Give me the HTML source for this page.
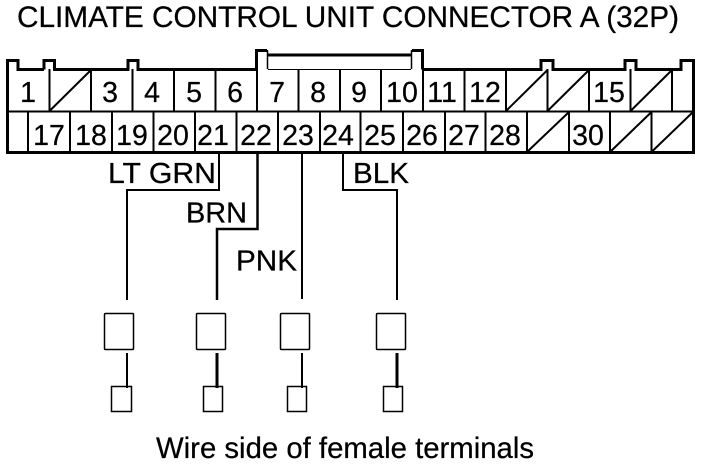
<!DOCTYPE html>
<html><head><meta charset="utf-8"><style>
html,body{margin:0;padding:0;background:#fff}
svg{display:block}
text{font-family:"Liberation Sans",Arial,sans-serif;font-size:28.500px;fill:#000;stroke:#000;stroke-width:.25px}
.c{text-anchor:middle}
</style></head><body>
<svg width="704" height="468" viewBox="0 0 704 468" xmlns="http://www.w3.org/2000/svg">
<text x="17" y="27" style="font-size:29.400px" textLength="662" lengthAdjust="spacingAndGlyphs">CLIMATE CONTROL UNIT CONNECTOR A (32P)</text>

<g fill="none" stroke="#000" stroke-width="3">
<path d="M256.500 69.500V50.500H267M267 55H412M412 50.500H422.500V69.500M7.500 152V60.500H18V69.500H44M44 69.500V60.500H54.500V69.500H128V60.500H138V69.500H256M423 69.500H541V60.500H553V69.500H625V60.500H636V69.500H681V60.500H693.500V152M6 152.500H695"/>
<path d="M6 111.500H694" stroke-width="2"/>
<path d="M268 69.500H411" stroke-width="1"/>
</g>
<path d="M267.500 50V69M411.500 50V69" stroke="#000" stroke-width="1.500" fill="none"/>

<g stroke="#000" stroke-width="2" fill="none">
<path d="M49.500 69V111M91 69V111M132.500 69V111M174 69V111M215.500 69V111M257 69V111M298.500 69V111M340 69V111M381 69V111M423 69V111M464.500 69V111M506 69V111M547.500 69V111M589 69V111M630.500 69V111M672 69V111"/>
<path d="M28 111V152M70 111V152M112 111V152M153.500 111V152M195 111V152M236.500 111V152M278 111V152M320 111V152M360.500 111V152M403 111V152M445 111V152M485.500 111V152M527 111V152M569 111V152M610 111V152M651.500 111V152"/>
<path d="M49.500 111L91 70M506 111L547.500 70M547.500 111L589 70M630.500 111L672 70M527 152L569 112M610 152L651.500 112M651.500 152L693 112"/>
</g>

<g>
<text class="c" x="28" y="102">1</text><text class="c" x="110" y="102">3</text><text class="c" x="152" y="102">4</text><text class="c" x="194" y="102">5</text><text class="c" x="235" y="102">6</text><text class="c" x="277" y="102">7</text><text class="c" x="318" y="102">8</text><text class="c" x="359" y="102">9</text><text class="c" x="402" y="102">10</text><text class="c" x="442" y="102">11</text><text class="c" x="485" y="102">12</text><text class="c" x="609" y="102">15</text>
<text class="c" x="49" y="145">17</text><text class="c" x="91" y="145">18</text><text class="c" x="132" y="145">19</text><text class="c" x="173" y="145">20</text><text class="c" x="213" y="145">21</text><text class="c" x="256" y="145">22</text><text class="c" x="298" y="145">23</text><text class="c" x="338" y="145">24</text><text class="c" x="380" y="145">25</text><text class="c" x="422" y="145">26</text><text class="c" x="464" y="145">27</text><text class="c" x="505" y="145">28</text><text class="c" x="588" y="145">30</text>
</g>

<g fill="none" stroke="#000">
<path d="M219 153V190H127V300" stroke-width="2"/>
<path d="M257.500 153V229H217V300" stroke-width="2.500"/>
<path d="M302 153V299" stroke-width="2"/>
<path d="M343 153V190H397V300" stroke-width="2"/>
<path d="M127 353V388M302 353V388" stroke-width="2"/>
<path d="M217 353V388M397 353V388" stroke-width="3"/>
<g stroke-width="1.500">
<rect x="104.500" y="313.500" width="29" height="36" rx="1"/>
<rect x="196.500" y="313.500" width="29" height="36" rx="1"/>
<rect x="280.500" y="313.500" width="29" height="36" rx="1"/>
<rect x="376.500" y="313.500" width="29" height="36" rx="1"/>
<rect x="111.500" y="386.500" width="20" height="25"/>
<rect x="203.500" y="386.500" width="19" height="25"/>
<rect x="287.500" y="386.500" width="19" height="25"/>
<rect x="383.500" y="386.500" width="19" height="25"/>
</g>
</g>

<text x="108" y="183" style="font-size:29px" textLength="108" lengthAdjust="spacingAndGlyphs">LT GRN</text>
<text x="186" y="222.500" style="font-size:29px" textLength="61" lengthAdjust="spacingAndGlyphs">BRN</text>
<text x="236" y="270.500" style="font-size:29px" textLength="61" lengthAdjust="spacingAndGlyphs">PNK</text>
<text x="353" y="183" style="font-size:29px" textLength="56" lengthAdjust="spacingAndGlyphs">BLK</text>
<text x="156" y="458" style="font-size:30px" textLength="378" lengthAdjust="spacingAndGlyphs">Wire side of female terminals</text>
</svg>
</body></html>
